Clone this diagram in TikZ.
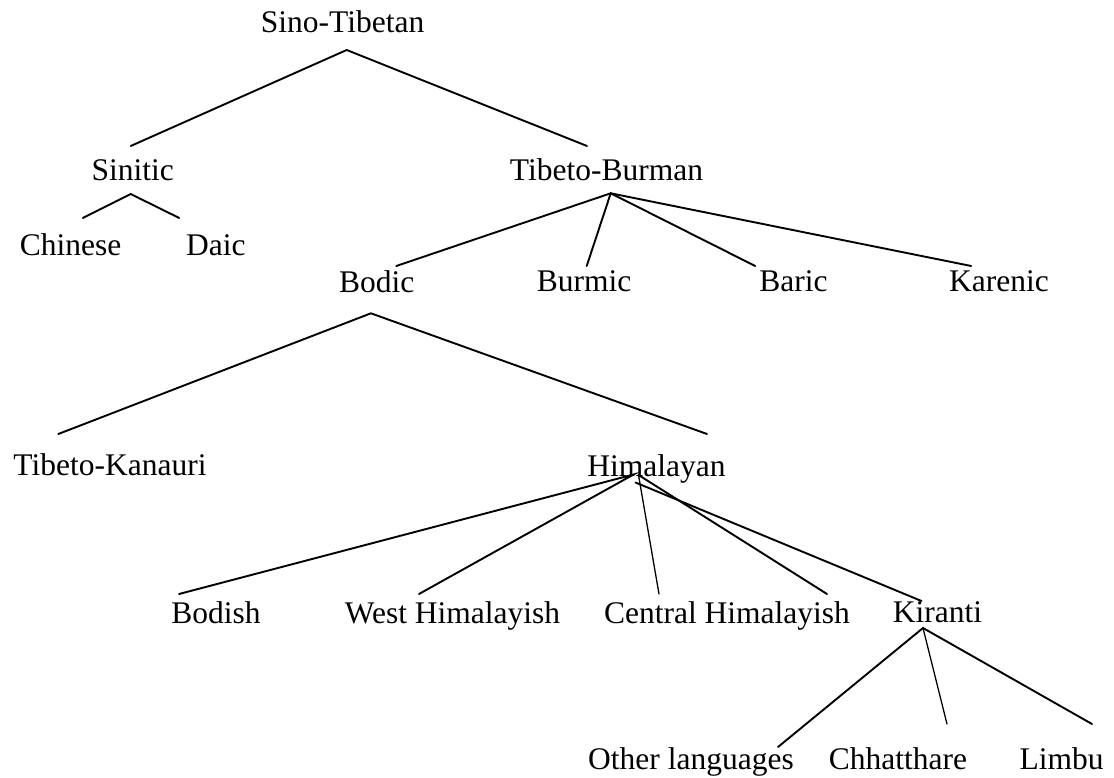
\documentclass[tikz,border=0pt]{standalone}
\usepackage{fontspec}
\setmainfont{Liberation Serif}
\begin{document}
\begin{tikzpicture}[x=1pt,y=-1pt,
  lang/.style={anchor=base,inner sep=0pt,font=\fontsize{31.5}{36}\selectfont},
  branch/.style={line width=1.9pt,line cap=round},
  thinbranch/.style={line width=1.3pt,line cap=round}]
\useasboundingbox (0,0) rectangle (1114,778);

% language names
\node[lang] (sinotibetan) at (342.6,33) {Sino-Tibetan};
\node[lang] (sinitic)     at (132.8,181) {Sinitic};
\node[lang] (tibburman)   at (606.5,181) {Tibeto-Burman};
\node[lang] (chinese)     at (70.5,255) {Chinese};
\node[lang] (daic)        at (215.8,255) {Daic};
\node[lang] (bodic)       at (376.7,292) {Bodic};
\node[lang] (burmic)      at (584,291.5) {Burmic};
\node[lang] (baric)       at (793.5,291.7) {Baric};
\node[lang] (karenic)     at (999,291.7) {Karenic};
\node[lang] (tibkanauri)  at (110,475) {Tibeto-Kanauri};
\node[lang] (himalayan)   at (656.5,476) {Himalayan};
\node[lang] (bodish)      at (216,623) {Bodish};
\node[lang] (westhim)     at (452.5,623) {West Himalayish};
\node[lang] (centralhim)  at (727,623) {Central Himalayish};
\node[lang] (kiranti)     at (937.5,622) {Kiranti};
\node[lang] (otherlang)   at (691,769) {Other languages};
\node[lang] (chhatthare)  at (898,769) {Chhatthare};
\node[lang] (limbu)       at (1061.5,769) {Limbu};

% fork points under each parent
\coordinate (sinotibetan-fork) at (346.7,50);
\coordinate (sinitic-fork)     at (130.7,194);
\coordinate (tibburman-fork)   at (610.7,193.3);
\coordinate (bodic-fork)       at (370.9,313.3);
\coordinate (himalayan-fork)   at (633.5,474.5);
\coordinate (himalayan-fork2)  at (638.5,475);
\coordinate (himalayan-fork3)  at (635.5,482.5);
\coordinate (kiranti-fork)     at (923,628);

% branch ends above each child
\coordinate (sinitic-top)     at (130.7,146);
\coordinate (tibburman-top)   at (587,146);
\coordinate (chinese-top)     at (82.8,218);
\coordinate (daic-top)        at (179.2,218);
\coordinate (bodic-top)       at (396.3,266);
\coordinate (burmic-top)      at (586.7,266);
\coordinate (baric-top)       at (755.2,266);
\coordinate (karenic-top)     at (971.2,266);
\coordinate (tibkanauri-top)  at (58.3,434);
\coordinate (himalayan-top)   at (707,434);
\coordinate (bodish-top)      at (179,594);
\coordinate (westhim-top)     at (419,594);
\coordinate (centralhim-top)  at (659,594);
\coordinate (centralhim-top2) at (827,594);
\coordinate (kiranti-top)     at (921.5,601);
\coordinate (otherlang-top)   at (778,747);
\coordinate (chhatthare-top)  at (947,724);
\coordinate (limbu-top)       at (1092,724);

% branches
\draw[branch] (sinitic-top) -- (sinotibetan-fork) -- (tibburman-top);
\draw[branch] (chinese-top) -- (sinitic-fork) -- (daic-top);
\draw[branch] (bodic-top) -- (tibburman-fork) -- (karenic-top);
\draw[branch] (burmic-top) -- (tibburman-fork) -- (baric-top);
\draw[branch] (tibkanauri-top) -- (bodic-fork) -- (himalayan-top);
\draw[branch] (bodish-top) -- (himalayan-fork) -- (westhim-top);
\draw[thinbranch] (himalayan-fork2) -- (centralhim-top);
\draw[branch] (himalayan-fork2) -- (centralhim-top2);
\draw[branch] (himalayan-fork3) -- (kiranti-top);
\draw[branch] (otherlang-top) -- (kiranti-fork) -- (limbu-top);
\draw[thinbranch] (kiranti-fork) -- (chhatthare-top);
\end{tikzpicture}
\end{document}
